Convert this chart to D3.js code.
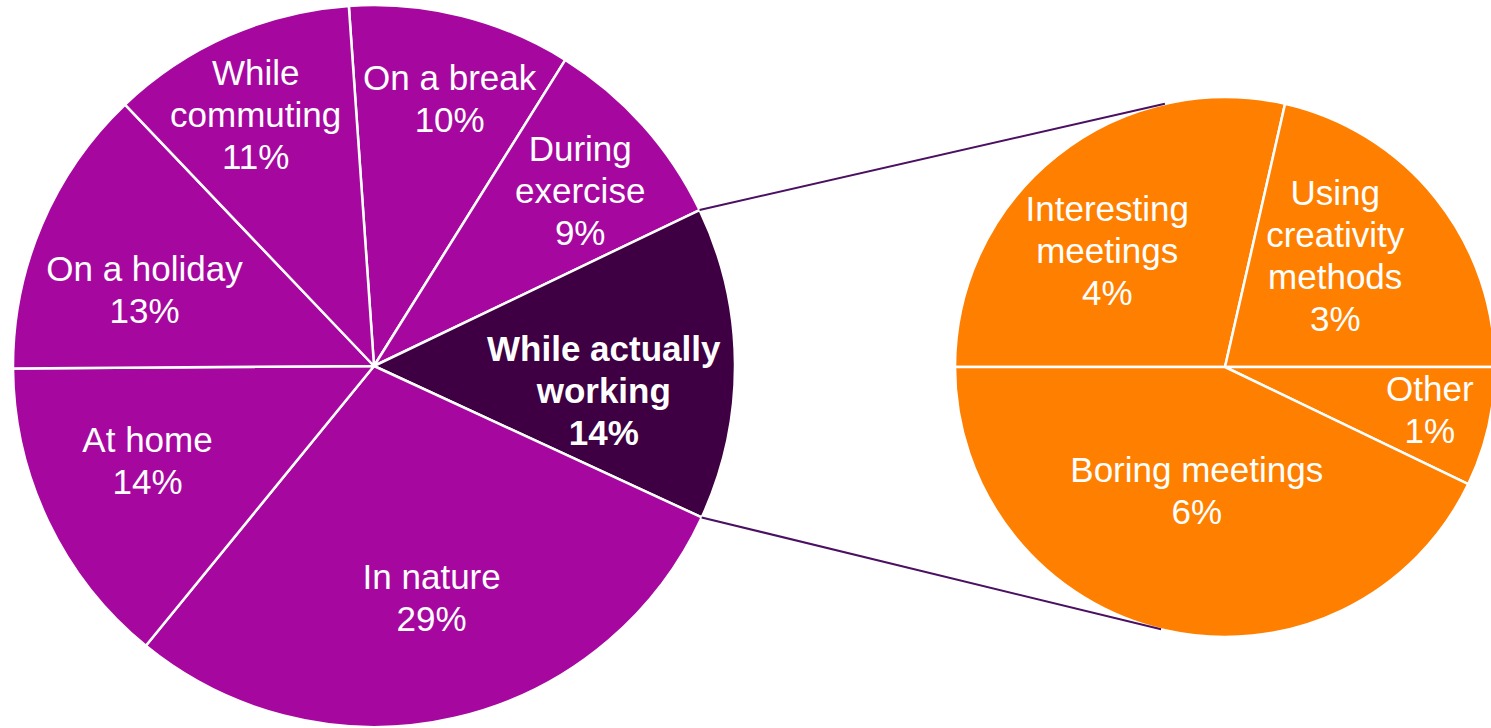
<html>
<head>
<title>Where ideas come from</title>
<script src="https://cdnjs.cloudflare.com/ajax/libs/d3/7.8.5/d3.min.js"></script>
<style>
body { margin: 0; background: #fff; }
text { font-family: "Liberation Sans", Arial, sans-serif; fill: #fff; }
</style>
</head>
<body>
<svg id="chart" width="1491" height="728"></svg>
<script>
// main pie, clockwise from the top
var mainCategories = ["On a break", "During\nexercise", "While actually\nworking", "In nature", "At home", "On a holiday", "While\ncommuting"];
var mainValues = [10, 9, 14, 29, 14, 13, 11];
// breakdown of "While actually working"
var subCategories = ["Interesting\nmeetings", "Using\ncreativity\nmethods", "Other", "Boring meetings"];
var subValues = [4, 3, 1, 6];

var highlight = 2; // index of the exploded slice

// layout
var mainC = [374, 366], mainR = 361;
var subC = [1225, 367], subR = 270;
// label placement: [fraction of radius, angle nudge in degrees]
var mainLabelPos = [[0.77, 1.8], [0.75, 1.4], [0.64, 6.4], [0.66, -1.0], [0.68, 2.9], [0.67, -4.6], [0.77, -1.4]];
var subLabelPos = [[0.615, -6.6], [0.58, -6.7], [0.775, -1.1], [0.47, 0]];
var purple = "#a6089f", dark = "#3e0042", orange = "#ff7f00";
var fontSize = 35, lineH = 42;

var svg = d3.select('#chart');

function drawPie(values, labels, center, r, start, labelPos, fillFn, boldFn) {
    var pie = d3.pie().sort(null).value(function (d) { return d; })
        .startAngle(start).endAngle(start + 2 * Math.PI);
    var arcs = pie(values);
    var arc = d3.arc().innerRadius(0).outerRadius(r);
    var g = svg.append('g').attr('transform', 'translate(' + center[0] + ',' + center[1] + ')');

    g.selectAll('path').data(arcs).enter().append('path')
        .attr('d', arc)
        .attr('fill', function (d, i) { return fillFn(i); })
        .attr('stroke', '#fff')
        .attr('stroke-width', 2.5)
        .attr('stroke-linejoin', 'round');

    var t = g.selectAll('text.lbl').data(arcs).enter().append('text')
        .attr('class', 'lbl')
        .attr('text-anchor', 'middle')
        .style('font-size', fontSize + 'px')
        .style('font-weight', function (d, i) { return boldFn(i) ? 'bold' : 'normal'; })
        .attr('transform', function (d, i) {
            var a = (d.startAngle + d.endAngle) / 2 + labelPos[i][1] * Math.PI / 180;
            var rr = r * labelPos[i][0];
            return 'translate(' + (rr * Math.sin(a)) + ',' + (-rr * Math.cos(a)) + ')';
        });
    t.each(function (d, i) {
        var lines = labels[i].split('\n').concat([d.value + '%']);
        var n = lines.length;
        d3.select(this).selectAll('tspan').data(lines).enter().append('tspan')
            .attr('x', 0)
            .attr('y', function (s, k) { return (k - (n - 1) / 2) * lineH + fontSize * 0.36; })
            .text(function (s) { return s; });
    });
    return arcs;
}

var mainArcs = drawPie(mainValues, mainCategories, mainC, mainR, -4 * Math.PI / 180, mainLabelPos,
    function (i) { return i === highlight ? dark : purple; },
    function (i) { return i === highlight; });

drawPie(subValues, subCategories, subC, subR, -Math.PI / 2, subLabelPos,
    function () { return orange; },
    function () { return false; });

// connector lines: from the edges of the highlighted slice, tangent to the breakdown pie
function tangentPoint(p, side) {
    var dx = subC[0] - p[0], dy = subC[1] - p[1];
    var d = Math.sqrt(dx * dx + dy * dy);
    var base = Math.atan2(dy, dx);
    var off = Math.asin(subR / d) * side;
    var len = Math.sqrt(d * d - subR * subR);
    return [p[0] + len * Math.cos(base + off), p[1] + len * Math.sin(base + off)];
}
var hs = mainArcs[highlight];
[[hs.startAngle, -1], [hs.endAngle, 1]].forEach(function (e) {
    var p = [mainC[0] + mainR * Math.sin(e[0]), mainC[1] - mainR * Math.cos(e[0])];
    var q = tangentPoint(p, e[1]);
    svg.append('line')
        .attr('x1', p[0]).attr('y1', p[1])
        .attr('x2', q[0]).attr('y2', q[1])
        .attr('stroke', '#4a1062')
        .attr('stroke-width', 2);
});
</script>
</body>
</html>
